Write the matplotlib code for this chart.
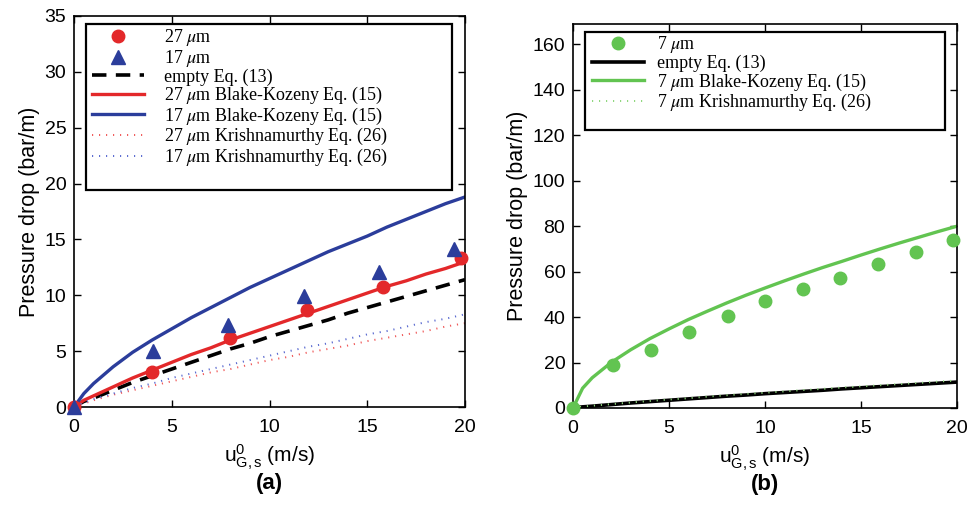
import matplotlib
matplotlib.use("Agg")
import matplotlib.pyplot as plt
from matplotlib.patches import Rectangle

plt.rcParams['font.family'] = ['Liberation Sans', 'DejaVu Sans']
plt.rcParams['mathtext.fontset'] = 'stix'

# ---------------- data: panel (a) ----------------
x_curve = [0, 0.5, 1, 2, 3, 4, 5, 6, 7, 8, 9, 10, 11, 12, 13, 14, 15, 16, 17, 18, 19, 20]
bk_17 = [0, 1.2, 2.1, 3.6, 4.9, 6.0, 7.0, 8.0, 8.9, 9.8, 10.7, 11.5, 12.3, 13.1, 13.9, 14.6, 15.3, 16.1, 16.8, 17.5, 18.2, 18.8]
bk_27 = [0, 0.6, 1.0, 1.8, 2.6, 3.3, 4.0, 4.7, 5.3, 6.0, 6.6, 7.2, 7.8, 8.4, 9.0, 9.6, 10.2, 10.8, 11.3, 11.9, 12.4, 13.0]
empty = [0, 0.5, 0.8, 1.5, 2.2, 2.8, 3.4, 4.0, 4.6, 5.2, 5.7, 6.3, 6.8, 7.3, 7.8, 8.4, 8.9, 9.4, 9.9, 10.4, 10.9, 11.4]
kr_27 = [0, 0.3, 0.6, 1.1, 1.5, 1.9, 2.3, 2.7, 3.1, 3.4, 3.8, 4.2, 4.5, 4.9, 5.2, 5.5, 5.9, 6.2, 6.5, 6.8, 7.2, 7.5]
kr_17 = [0, 0.4, 0.7, 1.2, 1.7, 2.1, 2.6, 3.0, 3.4, 3.8, 4.2, 4.6, 5.0, 5.4, 5.7, 6.1, 6.5, 6.8, 7.2, 7.6, 7.9, 8.3]

x_27 = [0, 4.0, 8.0, 11.9, 15.8, 19.8]
y_27 = [0, 3.1, 6.2, 8.7, 10.7, 13.3]
x_17 = [0, 4.05, 7.9, 11.75, 15.6, 19.45]
y_17 = [0, 5.0, 7.3, 9.9, 12.1, 14.1]

# ---------------- data: panel (b) ----------------
bk_7 = [0, 8.7, 13.3, 20.1, 25.6, 30.5, 34.8, 38.9, 42.6, 46.2, 49.6, 52.8, 55.9, 58.9, 61.8, 64.5, 67.3, 70.0, 72.6, 75.1, 77.6, 80.0]
kr_7 = [0, 0.6, 1.0, 1.7, 2.4, 3.1, 3.7, 4.3, 5.0, 5.6, 6.2, 6.7, 7.3, 7.9, 8.4, 9.0, 9.5, 10.0, 10.5, 11.0, 11.6, 12.1]
x_7 = [0, 2.1, 4.05, 6.05, 8.05, 10.0, 12.0, 13.9, 15.9, 17.85, 19.8]
y_7 = [0, 18.9, 25.5, 33.4, 40.3, 47.2, 52.3, 57.4, 63.3, 68.6, 74.1]

RED = '#e3282a'
BLUE = '#2b3d9b'
GREEN = '#62c451'
RED_L = '#f05a5a'
BLUE_L = '#5a6ad0'
GREEN_L = '#8ed67c'

LEG_FONT = {'family': 'Liberation Serif', 'size': 13}

fig = plt.figure(figsize=(9.79, 5.11), dpi=100)
axa = fig.add_axes([0.0756, 0.2035, 0.3994, 0.7652])
axb = fig.add_axes([0.5853, 0.2016, 0.3922, 0.7515])

# ---- panel a ----
h1, = axa.plot(x_27, y_27, 'o', color=RED, ms=9, mec=RED, zorder=5, clip_on=False)
h2, = axa.plot(x_17, y_17, '^', color=BLUE, ms=9.5, mec=BLUE, zorder=5, clip_on=False)
h3, = axa.plot(x_curve, empty, '--', color='black', lw=2.6, dashes=(4, 2.6))
h4, = axa.plot(x_curve, bk_27, '-', color=RED, lw=2.4)
h5, = axa.plot(x_curve, bk_17, '-', color=BLUE, lw=2.4)
h6, = axa.plot(x_curve, kr_27, ':', color=RED_L, lw=1.4, dashes=(0.6, 3))
h7, = axa.plot(x_curve, kr_17, ':', color=BLUE_L, lw=1.4, dashes=(0.6, 3))
axa.set_xlim(0, 20)
axa.set_ylim(0, 35)
axa.set_xticks([0, 5, 10, 15, 20])
axa.set_yticks([0, 5, 10, 15, 20, 25, 30, 35])

labels_a = ['27 $\\mu$m', '17 $\\mu$m', 'empty Eq. (13)',
            '27 $\\mu$m Blake-Kozeny Eq. (15)', '17 $\\mu$m Blake-Kozeny Eq. (15)',
            '27 $\\mu$m Krishnamurthy Eq. (26)', '17 $\\mu$m Krishnamurthy Eq. (26)']
axa.legend([h1, h2, h3, h4, h5, h6, h7], labels_a, loc='upper left',
           bbox_to_anchor=(0.037, 0.98), frameon=False, prop=LEG_FONT,
           handlelength=2.85, handletextpad=1.15, labelspacing=-0.03,
           borderaxespad=0, borderpad=0.2, numpoints=1)
axa.add_patch(Rectangle((0.031, 0.555), 0.935, 0.425, transform=axa.transAxes,
                        fill=False, ec='black', lw=1.6, zorder=6))

# ---- panel b ----
g1, = axb.plot(x_7, y_7, 'o', color=GREEN, ms=9, mec=GREEN, zorder=5, clip_on=False)
g2, = axb.plot(x_curve, empty, '-', color='black', lw=2.6)
g3, = axb.plot(x_curve, bk_7, '-', color=GREEN, lw=2.4)
g4, = axb.plot(x_curve, kr_7, ':', color=GREEN_L, lw=1.4, dashes=(0.6, 3))
axb.set_xlim(0, 20)
axb.set_ylim(0, 169)
axb.set_xticks([0, 5, 10, 15, 20])
axb.set_yticks([0, 20, 40, 60, 80, 100, 120, 140, 160])

labels_b = ['7 $\\mu$m', 'empty Eq. (13)', '7 $\\mu$m Blake-Kozeny Eq. (15)',
            '7 $\\mu$m Krishnamurthy Eq. (26)']
axb.legend([g1, g2, g3, g4], labels_b, loc='upper left',
           bbox_to_anchor=(0.041, 0.982), frameon=False, prop=LEG_FONT,
           handlelength=2.85, handletextpad=0.72, labelspacing=-0.03,
           borderaxespad=0, borderpad=0.2, numpoints=1)
axb.add_patch(Rectangle((0.031, 0.724), 0.938, 0.254, transform=axb.transAxes,
                        fill=False, ec='black', lw=1.6, zorder=6))

for ax, tag, ly in ((axa, '(a)', -0.169), (axb, '(b)', -0.172)):
    ax.tick_params(direction='in', length=5, width=1, top=True, right=True,
                   labelsize=14)
    ax.tick_params(axis='x', pad=8.5)
    ax.tick_params(axis='y', pad=5.5)
    for s in ax.spines.values():
        s.set_linewidth(1.2)
    ax.set_ylabel('Pressure drop (bar/m)', fontsize=15.5, labelpad=3)
    ax.set_xlabel('$\\mathregular{u^{0}_{G,s}}$ (m/s)', fontsize=15, labelpad=5)
    ax.text(0.5, ly, tag, transform=ax.transAxes, ha='center', va='top',
            fontsize=16, fontweight='bold')

fig.savefig('out.png', dpi=100)
